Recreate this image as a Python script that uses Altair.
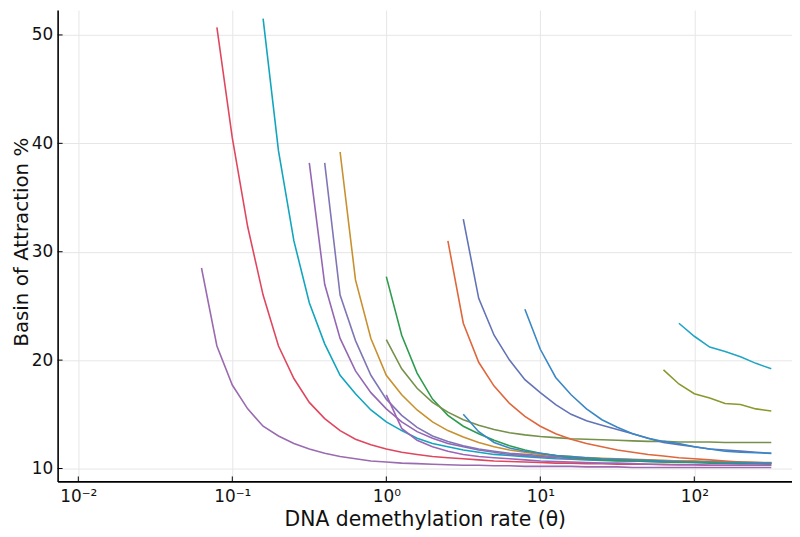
import altair as alt
import pandas as pd

# log10(theta) of each series' first point; points are spaced 0.1 decade apart
series_names = ["A", "B", "C", "D", "E", "F", "G", "H", "I", "J", "K", "O", "L", "M", "N"]
series_start = [-1.2, -1.1, -0.8, -0.5, -0.4, -0.3, 0.0, 0.0, 0.0, 0.4, 0.5, 0.5, 0.9, 1.8, 1.9]
series_colors = ["#9a6bb0", "#e0475f", "#11a5bf", "#9467b5", "#7f77b5", "#c8902e", "#2e9c4e",
                 "#75914a", "#9c65b5", "#e0663c", "#6273b8", "#3a87c5", "#3a87c5", "#8a982c", "#22a5c5"]

vals_A = [28.5, 21.3, 17.7, 15.5, 13.9, 13.0, 12.3, 11.8, 11.4, 11.1, 10.9, 10.7, 10.6, 10.5, 10.45,
          10.4, 10.35, 10.3, 10.3, 10.25, 10.25, 10.2, 10.2, 10.2, 10.2, 10.15, 10.15, 10.15, 10.1,
          10.1, 10.1, 10.1, 10.1, 10.1, 10.1, 10.1, 10.1, 10.1]
vals_B = [50.7, 40.5, 32.3, 26.0, 21.3, 18.3, 16.1, 14.6, 13.5, 12.7, 12.2, 11.8, 11.5, 11.3, 11.1,
          11.0, 10.9, 10.8, 10.7, 10.65, 10.6, 10.55, 10.5, 10.5, 10.45, 10.45, 10.4, 10.4, 10.4,
          10.35, 10.35, 10.35, 10.3, 10.3, 10.3, 10.3, 10.3]
vals_C = [51.5, 39.3, 31.0, 25.3, 21.5, 18.6, 16.9, 15.4, 14.3, 13.5, 12.8, 12.3, 12.0, 11.7, 11.5,
          11.3, 11.2, 11.1, 11.0, 10.9, 10.85, 10.8, 10.75, 10.7, 10.7, 10.65, 10.6, 10.6, 10.55,
          10.55, 10.5, 10.5, 10.5, 10.5]
vals_D = [38.2, 27.0, 22.0, 19.0, 17.0, 15.5, 14.3, 13.4, 12.8, 12.3, 12.0, 11.7, 11.5, 11.3, 11.2,
          11.1, 11.0, 10.9, 10.85, 10.8, 10.75, 10.7, 10.7, 10.65, 10.6, 10.6, 10.6, 10.55, 10.55,
          10.5, 10.5]
vals_E = [38.2, 26.0, 21.8, 18.6, 16.4, 14.9, 13.8, 13.0, 12.5, 12.1, 11.8, 11.6, 11.4, 11.3, 11.2,
          11.1, 11.0, 10.95, 10.9, 10.85, 10.8, 10.75, 10.7, 10.7, 10.65, 10.6, 10.6, 10.55, 10.55, 10.5]
vals_F = [39.2, 27.4, 22.0, 18.6, 16.8, 15.4, 14.3, 13.5, 12.9, 12.4, 12.0, 11.7, 11.5, 11.3, 11.2,
          11.1, 11.0, 10.95, 10.9, 10.85, 10.8, 10.75, 10.7, 10.7, 10.65, 10.6, 10.6, 10.55, 10.55]
vals_G = [27.7, 22.3, 18.8, 16.4, 14.9, 13.9, 13.2, 12.6, 12.1, 11.7, 11.4, 11.2, 11.0, 10.9, 10.8,
          10.75, 10.7, 10.65, 10.6, 10.55, 10.55, 10.5, 10.5, 10.45, 10.45, 10.4]
vals_H = [21.9, 19.2, 17.4, 16.1, 15.2, 14.5, 14.0, 13.6, 13.3, 13.1, 12.95, 12.85, 12.75, 12.7,
          12.65, 12.6, 12.55, 12.5, 12.5, 12.45, 12.45, 12.45, 12.4, 12.4, 12.4, 12.4]
vals_I = [16.8, 13.7, 12.6, 12.0, 11.6, 11.3, 11.1, 11.0, 10.9, 10.8, 10.7, 10.65, 10.6, 10.55, 10.5,
          10.5, 10.45, 10.4, 10.4, 10.35, 10.35, 10.3, 10.3, 10.3, 10.3, 10.3]
vals_J = [31.0, 23.4, 19.8, 17.6, 16.0, 14.8, 13.9, 13.2, 12.7, 12.3, 12.0, 11.7, 11.5, 11.3, 11.15,
          11.0, 10.9, 10.8, 10.7, 10.6, 10.55, 10.5]
vals_K = [33.0, 25.7, 22.3, 20.0, 18.2, 17.0, 15.9, 15.0, 14.4, 14.0, 13.6, 13.2, 12.8, 12.4, 12.2,
          12.0, 11.8, 11.7, 11.6, 11.5, 11.4]
vals_O = [15.0, 13.4, 12.4, 11.9, 11.6, 11.4, 11.2, 11.1, 11.0, 10.9, 10.85, 10.8, 10.75, 10.7, 10.65,
          10.6, 10.6, 10.55, 10.55, 10.5, 10.5]
vals_L = [24.7, 21.0, 18.4, 16.8, 15.5, 14.5, 13.8, 13.2, 12.8, 12.5, 12.3, 12.0, 11.8, 11.6, 11.5,
          11.45, 11.4]
vals_M = [19.1, 17.8, 16.9, 16.5, 16.0, 15.9, 15.5, 15.3]
vals_N = [23.4, 22.2, 21.2, 20.8, 20.3, 19.7, 19.2]

series_values = [vals_A, vals_B, vals_C, vals_D, vals_E, vals_F, vals_G, vals_H, vals_I,
                 vals_J, vals_K, vals_O, vals_L, vals_M, vals_N]

x_ticks = [0.01, 0.1, 1, 10, 100]
y_ticks = [10, 20, 30, 40, 50]

rows = []
for name, start, vals in zip(series_names, series_start, series_values):
    for i, v in enumerate(vals):
        rows.append({"series": name, "theta": 10 ** (start + 0.1 * i), "basin": v, "i": i})
df = pd.DataFrame(rows)

W, H = 740, 475
FONT = "DejaVu Sans"
xscale = alt.Scale(type="log", domain=[0.00734, 431], nice=False)
yscale = alt.Scale(domain=[8.81, 52.3], nice=False, zero=False)

label_expr = ("datum.value < 0.05 ? '10⁻²' : datum.value < 0.5 ? '10⁻¹' : "
              "datum.value < 5 ? '10⁰' : datum.value < 50 ? '10¹' : '10²'")

xaxis = alt.Axis(values=x_ticks, labelExpr=label_expr, title="DNA demethylation rate (θ)",
                 grid=True, ticks=False, labelPadding=7, titlePadding=5,
                 labelFontSize=17, titleFontSize=20.5)
yaxis = alt.Axis(values=y_ticks, title="Basin of Attraction %", grid=True, ticks=False,
                 labelPadding=5, labelFontSize=17, titleFontSize=20,
                 titleX=-36, titleY=H / 2 - 4, titleAngle=270, titleAlign="center",
                 titleBaseline="middle")

lines = alt.Chart(df).mark_line(strokeWidth=1.6, clip=True).encode(
    x=alt.X("theta:Q", scale=xscale, axis=xaxis),
    y=alt.Y("basin:Q", scale=yscale, axis=yaxis),
    color=alt.Color("series:N", scale=alt.Scale(domain=series_names, range=series_colors), legend=None),
    order="i:Q",
    detail="series:N",
)

xt = alt.Chart(pd.DataFrame({"theta": x_ticks})).mark_rule(color="black", strokeWidth=1).encode(
    x=alt.X("theta:Q", scale=xscale, axis=xaxis), y=alt.value(H), y2=alt.value(H - 5))
yt = alt.Chart(pd.DataFrame({"basin": y_ticks})).mark_rule(color="black", strokeWidth=1).encode(
    y=alt.Y("basin:Q", scale=yscale, axis=yaxis), x=alt.value(0), x2=alt.value(5))

chart = alt.layer(lines, xt, yt).properties(
    width=W, height=H,
    autosize=alt.AutoSizeParams(type="none"),
    padding={"left": 50, "top": 0, "right": 0, "bottom": 55},
).configure_view(stroke=None).configure_axis(
    labelFont=FONT, titleFont=FONT, labelColor="#111", titleColor="#111",
    titleFontWeight="normal", gridColor="#e6e6e6", gridWidth=1,
    domainColor="black", domainWidth=1.6,
)

chart.save("out.html", embed_options={"renderer": "svg", "actions": False})
